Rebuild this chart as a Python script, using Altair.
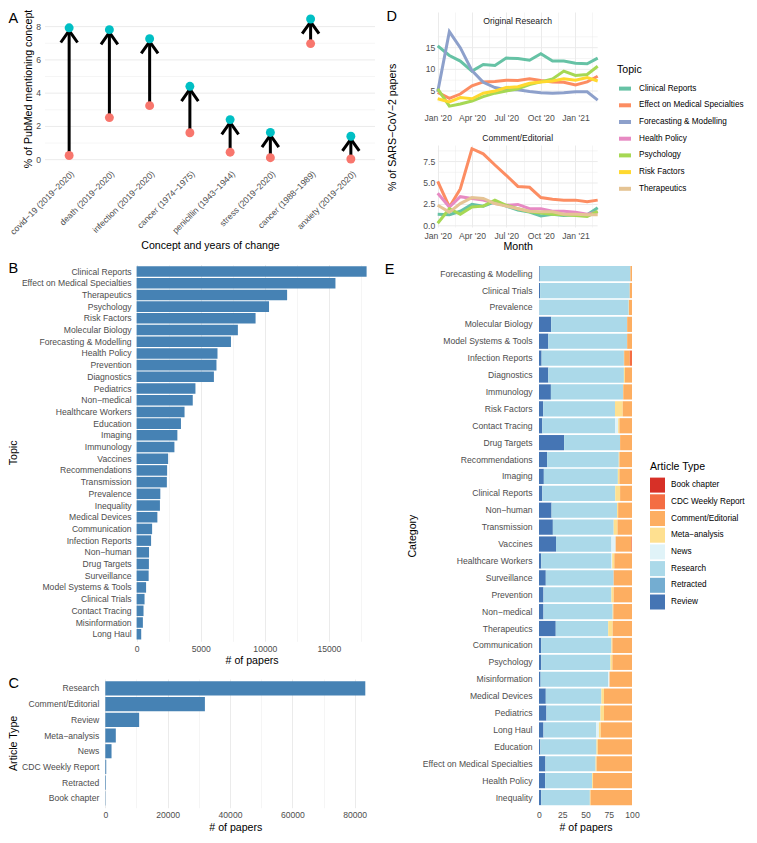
import json
import altair as alt
import pandas as pd

FONT = "Liberation Sans"
GRAY = "#4D4D4D"
GRID = "#EBEBEB"
BLUE = "#4682B4"

# ---------------- Panel A ----------------
a_concepts = ["covid−19 (2019−2020)", "death (2019−2020)", "infection (2019−2020)",
              "cancer (1974−1975)", "penicillin (1943−1944)", "stress (2019−2020)",
              "cancer (1988−1989)", "anxiety (2019−2020)"]
a_before = [0.25, 2.53, 3.25, 1.62, 0.45, 0.12, 6.98, 0.04]
a_after = [7.93, 7.82, 7.27, 4.41, 2.41, 1.64, 8.46, 1.41]
a_yticks = [0, 1, 2, 3, 4, 5, 6, 7, 8]

# ---------------- Panel B ----------------
b_topics = ["Clinical Reports", "Effect on Medical Specialties", "Therapeutics", "Psychology",
            "Risk Factors", "Molecular Biology", "Forecasting & Modelling", "Health Policy",
            "Prevention", "Diagnostics", "Pediatrics", "Non−medical", "Healthcare Workers",
            "Education", "Imaging", "Immunology", "Vaccines", "Recommendations", "Transmission",
            "Prevalence", "Inequality", "Medical Devices", "Communication", "Infection Reports",
            "Non−human", "Drug Targets", "Surveillance", "Model Systems & Tools", "Clinical Trials",
            "Contact Tracing", "Misinformation", "Long Haul"]
b_counts = [17940, 15510, 11740, 10330, 9280, 7900, 7360, 6310, 6230, 6030, 4590, 4380,
            3740, 3460, 3180, 2950, 2460, 2380, 2360, 1850, 1820, 1620, 1210, 1130,
            970, 960, 940, 740, 620, 540, 490, 360]
b_ticks = [0, 2500, 5000, 7500, 10000, 12500, 15000, 17500]

# ---------------- Panel C ----------------
c_types = ["Research", "Comment/Editorial", "Review", "Meta−analysis", "News",
           "CDC Weekly Report", "Retracted", "Book chapter"]
c_counts = [83400, 31950, 10860, 3370, 2000, 300, 200, 100]
c_ticks = [0, 10000, 20000, 30000, 40000, 50000, 60000, 70000, 80000]

# ---------------- Panel D ----------------
d_months = ["2020-01-01", "2020-02-01", "2020-03-01", "2020-04-01", "2020-05-01",
            "2020-06-01", "2020-07-01", "2020-08-01", "2020-09-01", "2020-10-01",
            "2020-11-01", "2020-12-01", "2021-01-01", "2021-02-01", "2021-03-01"]
d_topics = ["Clinical Reports", "Effect on Medical Specialties", "Forecasting & Modelling",
            "Health Policy", "Psychology", "Risk Factors", "Therapeutics"]
d_colors = ["#66C2A5", "#FC8D62", "#8DA0CB", "#E78AC3", "#A6D854", "#FFD92F", "#E5C494"]

or_clinical = [15.4, 13.2, 11.9, 9.6, 11.1, 10.9, 12.6, 12.5, 12.1, 13.6, 11.9, 11.9, 11.4, 11.3, 12.6]
or_effect = [4.7, 3.3, 4.3, 6.2, 7.1, 7.2, 7.5, 7.4, 7.8, 7.4, 7.1, 7.0, 6.4, 7.1, 8.4]
or_forecast = [4.8, 18.7, 15.0, 9.7, 7.0, 5.8, 5.3, 5.3, 4.9, 4.6, 4.5, 4.6, 4.8, 4.8, 2.9]
or_psych = [5.5, 1.5, 2.0, 2.7, 3.7, 4.5, 5.0, 5.5, 6.5, 7.1, 7.8, 9.6, 8.6, 8.8, 10.7]
or_risk = [3.2, 2.5, 3.5, 3.2, 4.5, 5.0, 5.8, 6.0, 6.8, 7.1, 7.3, 7.8, 7.5, 8.1, 7.3]

ce_clinical = [1.35, 1.3, 1.7, 2.5, 2.3, 2.8, 2.3, 1.85, 1.6, 1.15, 1.35, 1.2, 1.3, 1.3, 2.1]
ce_effect = [5.2, 2.2, 4.3, 9.0, 8.4, 7.1, 5.9, 4.6, 4.5, 3.3, 3.1, 3.0, 3.0, 2.8, 3.0]
ce_policy = [3.8, 2.2, 3.4, 3.2, 3.0, 2.6, 2.4, 2.5, 2.0, 2.0, 1.7, 1.7, 1.6, 1.35, 1.6]
ce_psych = [0.3, 2.0, 1.35, 2.2, 2.3, 3.0, 2.4, 2.0, 1.65, 1.5, 1.35, 1.3, 1.2, 1.1, 1.7]
ce_thera = [2.4, 1.6, 2.6, 3.3, 3.2, 2.6, 2.3, 2.0, 1.7, 1.65, 1.65, 1.35, 1.35, 1.3, 1.3]

d_tick_dates = ["2020-01-01", "2020-02-15", "2020-04-01", "2020-05-16", "2020-07-01",
                "2020-08-16", "2020-10-01", "2020-11-16", "2021-01-01", "2021-02-15"]
or_yticks = [2.5, 5, 7.5, 10, 12.5, 15, 17.5]
ce_yticks = [0, 1.25, 2.5, 3.75, 5, 6.25, 7.5, 8.75]

# ---------------- Panel E ----------------
e_categories = ["Forecasting & Modelling", "Clinical Trials", "Prevalence", "Molecular Biology",
                "Model Systems & Tools", "Infection Reports", "Diagnostics", "Immunology",
                "Risk Factors", "Contact Tracing", "Drug Targets", "Recommendations", "Imaging",
                "Clinical Reports", "Non−human", "Transmission", "Vaccines", "Healthcare Workers",
                "Surveillance", "Prevention", "Non−medical", "Therapeutics", "Communication",
                "Psychology", "Misinformation", "Medical Devices", "Pediatrics", "Long Haul",
                "Education", "Effect on Medical Specialties", "Health Policy", "Inequality"]
e_types = ["Book chapter", "CDC Weekly Report", "Comment/Editorial", "Meta−analysis", "News",
           "Research", "Retracted", "Review"]
e_colors = ["#D73027", "#F46D43", "#FDAE61", "#FEE090", "#E0F3F8", "#ABD9E9", "#74ADD1", "#4575B4"]

e_review = [0.8, 1.2, 0.3, 13.1, 10.0, 2.8, 10.0, 12.8, 4.5, 3.5, 27.0, 8.7, 5.2, 3.5, 13.5, 14.9,
            18.3, 2.4, 7.3, 4.8, 4.8, 18.0, 2.4, 2.4, 1.7, 7.3, 8.0, 4.8, 1.4, 6.9, 6.6, 2.4]
e_retracted = [0, 0, 0, 0, 0, 0, 0, 0, 0, 0, 0, 0, 0, 0, 0, 0,
               0, 0, 0, 0, 0, 0, 0, 0, 0, 0, 0, 0, 0, 0, 0, 0]
e_research = [97.5, 96.4, 96.2, 81.7, 84.8, 88.5, 81.3, 77.5, 77.2, 78.5, 60.2, 77.1, 79.6, 78.5,
              70.4, 65.4, 59.6, 75.5, 73.0, 73.1, 74.4, 56.4, 75.5, 74.4, 72.7, 59.8, 58.1, 56.8,
              60.5, 54.0, 50.5, 52.3]
e_news = [0, 0, 0, 0, 0, 0, 0, 0, 0, 3.1, 0, 0, 0, 0, 0, 0,
          4.5, 0.8, 0, 0, 0, 0, 0, 0, 1.4, 0, 0, 2.8, 0, 0, 0, 0]
e_meta = [0, 0, 0.3, 0, 0, 0.3, 1.1, 0.3, 8.3, 1.4, 0, 0.7, 1.7, 5.2, 1.2, 4.1,
          0, 2.3, 0, 2.4, 0.7, 4.8, 1.0, 2.1, 0, 2.8, 3.8, 2.0, 1.4, 1.0, 1.0, 0.7]
e_comment = [1.7, 2.4, 3.2, 5.2, 5.2, 6.0, 7.6, 9.4, 10.0, 13.5, 12.8, 13.5, 13.5, 12.8, 14.9, 15.6,
             16.9, 19.0, 19.7, 19.7, 20.1, 20.8, 21.1, 21.1, 24.2, 30.1, 30.1, 33.6, 36.7, 38.1,
             41.9, 44.6]
e_cdc = [0, 0, 0, 0, 0, 2.4, 0, 0, 0, 0, 0, 0, 0, 0, 0, 0,
         0.7, 0, 0, 0, 0, 0, 0, 0, 0, 0, 0, 0, 0, 0, 0, 0]
e_book = [0, 0, 0, 0, 0, 0, 0, 0, 0, 0, 0, 0, 0, 0, 0, 0,
          0, 0, 0, 0, 0, 0, 0, 0, 0, 0, 0, 0, 0, 0, 0, 0]

# ---------------- layout (pixels) ----------------
# Left column: panels share A's plot origin; B and C start further right via their scale ranges.
A_W, A_H = 330, 154
B_LEFT, B_STEP = 91.6, 11.7
B_RIGHT = B_LEFT + 230
C_LEFT, C_STEP = 60.3, 15.7
C_RIGHT = C_LEFT + 260
# Right column: D panels share E's plot origin (D starts further left via its scale range).
D_LEFT, D_RIGHT, D_TOP, D_H, D_GAP = -101.3, 58.7, 15.9, 82, 35
E_W, E_STEP = 93, 16.9
B_H = B_STEP * (len(b_topics) + 0.2)
C_H = C_STEP * (len(c_types) + 0.2)
E_H = E_STEP * (len(e_categories) + 0.2)

CHEV = "M -0.6 1.05 L 0 0.2 L 0.6 1.05"
LABEL_SIZE = 8.6
TITLE_SIZE = 10.6


def letter(ch, x, y):
    return alt.Chart(pd.DataFrame({"t": [ch]})).mark_text(
        align="left", baseline="middle", fontSize=14.5, font=FONT, color="black"
    ).encode(x=alt.value(x), y=alt.value(y), text="t:N")


def free_text(txt, x, y, size, angle=0, color="black"):
    return alt.Chart(pd.DataFrame({"t": [txt]})).mark_text(
        align="center", baseline="middle", fontSize=size, font=FONT, color=color, angle=angle
    ).encode(x=alt.value(x), y=alt.value(y), text="t:N")


def grid_cond(test):
    return {"condition": {"test": test, "value": 1}, "value": 0.5}


def hgrid(values, yscale, x0, x1, major_test):
    return alt.Chart(pd.DataFrame({"v": values})).mark_rule(color=GRID).encode(
        y=alt.Y("v:Q", scale=yscale, axis=None),
        x=alt.value(x0), x2=alt.value(x1),
        strokeWidth=alt.condition(major_test, alt.value(1), alt.value(0.5)))


def ylabels(values, yscale, x, keep_test, fmt):
    # tick labels of a left axis drawn at a chosen pixel column
    return alt.Chart(pd.DataFrame({"v": values})).transform_filter(keep_test).transform_calculate(
        lab="format(datum.v, '%s')" % fmt
    ).mark_text(align="right", baseline="middle", fontSize=LABEL_SIZE, font=FONT,
                color=GRAY).encode(y=alt.Y("v:Q", scale=yscale, axis=None), x=alt.value(x),
                                   text="lab:N")


def cat_labels(df, field, order, yscale, x):
    return alt.Chart(df).mark_text(align="right", baseline="middle", fontSize=LABEL_SIZE,
                                   font=FONT, color=GRAY).encode(
        y=alt.Y(field + ":N", sort=order, scale=yscale, axis=None),
        x=alt.value(x), text=field + ":N")


def left_title_axis(title, tx, h, lp):
    return alt.Axis(title=title, titleX=tx, titleY=h / 2, titleAngle=270, titleAlign="center",
                    titleBaseline="middle", labelPadding=lp, labelOverlap=False, grid=False)


# ---------------- Panel A chart ----------------
a_idx = list(range(len(a_concepts)))
dfA = pd.DataFrame({"idx": a_idx, "concept": a_concepts, "before": a_before, "after": a_after})
a_names_js = json.dumps(a_concepts, ensure_ascii=False)
a_x = alt.X("idx:Q",
            scale=alt.Scale(domain=[-0.6, len(a_concepts) - 0.4], nice=False, zero=False),
            axis=alt.Axis(values=a_idx, labelExpr=a_names_js + "[datum.value]",
                          title="Concept and years of change", labelAngle=-45, labelAlign="right",
                          labelBaseline="top", labelPadding=3, titlePadding=5, grid=False,
                          labelOverlap=False, labelFlush=False))
a_scale_y = alt.Scale(domain=[-0.38, 8.88], nice=False, zero=False)
baseA = alt.Chart(dfA)
shaft = baseA.mark_rule(color="black", strokeWidth=3).encode(
    x=a_x, y=alt.Y("before:Q", scale=a_scale_y, axis=None), y2="after:Q")
head = baseA.mark_point(shape=CHEV, size=784, filled=False, color="black", strokeWidth=3,
                        opacity=1).encode(x=a_x, y=alt.Y("after:Q", scale=a_scale_y, axis=None))
pt0 = baseA.mark_circle(size=80, color="#F8766D", opacity=1).encode(
    x=a_x, y=alt.Y("before:Q", scale=a_scale_y, axis=None))
pt1 = baseA.mark_circle(size=80, color="#00BFC4", opacity=1).encode(
    x=a_x, y=alt.Y("after:Q", scale=a_scale_y, axis=None))
chartA = alt.layer(
    hgrid(a_yticks, a_scale_y, 0, A_W, "datum.v % 2 == 0"),
    shaft, head, pt0, pt1,
    ylabels(a_yticks, a_scale_y, -4, "datum.v % 2 == 0", "d"),
    free_text("% of PubMed mentioning concept", -16.4, A_H / 2, TITLE_SIZE, angle=270),
    letter("A", -36.4, 6.5),
).properties(width=A_W, height=A_H)

# ---------------- Panel B chart ----------------
dfB = pd.DataFrame({"topic": b_topics, "n": b_counts})
b_scale_y = alt.Scale(paddingInner=0.1, paddingOuter=0.15)
barsB = alt.Chart(dfB).mark_bar(color=BLUE).encode(
    x=alt.X("n:Q", scale=alt.Scale(domain=[0, 17940], nice=False, range=[B_LEFT, B_RIGHT]),
            axis=alt.Axis(values=b_ticks,
                          labelExpr="datum.value % 5000 == 0 ? format(datum.value, 'd') : ''",
                          title="# of papers", labelPadding=3, titlePadding=3, labelFlush=False,
                          labelOverlap=False, titleX=(B_LEFT + B_RIGHT) / 2,
                          gridWidth=grid_cond("datum.value % 5000 == 0"))),
    y=alt.Y("topic:N", sort=b_topics, scale=b_scale_y, axis=None))
chartB = alt.layer(
    barsB,
    cat_labels(dfB, "topic", b_topics, b_scale_y, B_LEFT - 5),
    free_text("Topic", B_LEFT - 123, B_H / 2, TITLE_SIZE, angle=270),
    letter("B", B_LEFT - 128, 4.5),
).properties(width=B_RIGHT, height=B_H)

# ---------------- Panel C chart ----------------
dfC = pd.DataFrame({"type": c_types, "n": c_counts})
c_scale_y = alt.Scale(paddingInner=0.1, paddingOuter=0.15)
barsC = alt.Chart(dfC).mark_bar(color=BLUE).encode(
    x=alt.X("n:Q", scale=alt.Scale(domain=[0, 83400], nice=False, range=[C_LEFT, C_RIGHT]),
            axis=alt.Axis(values=c_ticks,
                          labelExpr="datum.value % 20000 == 0 ? format(datum.value, 'd') : ''",
                          title="# of papers", labelPadding=3, titlePadding=3, labelFlush=False,
                          labelOverlap=False, titleX=(C_LEFT + C_RIGHT) / 2,
                          gridWidth=grid_cond("datum.value % 20000 == 0"))),
    y=alt.Y("type:N", sort=c_types, scale=c_scale_y, axis=None))
chartC = alt.layer(
    barsC,
    cat_labels(dfC, "type", c_types, c_scale_y, C_LEFT - 6),
    free_text("Article Type", C_LEFT - 91, C_H / 2, TITLE_SIZE, angle=270),
    letter("C", C_LEFT - 96.7, 4.7),
).properties(width=C_RIGHT, height=C_H)


# ---------------- Panel D charts ----------------
def ms(s):
    return int(pd.Timestamp(s, tz="UTC").value // 10**6)


def long_df(series):
    rows = []
    for topic, vals in series:
        for m, v in zip(d_months, vals):
            rows.append({"month": m, "topic": topic, "pct": v})
    return pd.DataFrame(rows)


df_or = long_df([("Clinical Reports", or_clinical), ("Effect on Medical Specialties", or_effect),
                 ("Forecasting & Modelling", or_forecast), ("Psychology", or_psych),
                 ("Risk Factors", or_risk)])
df_ce = long_df([("Clinical Reports", ce_clinical), ("Effect on Medical Specialties", ce_effect),
                 ("Health Policy", ce_policy), ("Psychology", ce_psych),
                 ("Therapeutics", ce_thera)])

d_xticks = [ms(s) for s in d_tick_dates]
d_xdomain = [ms(d_months[0]), ms(d_months[-1])]
d_label_expr = "utcdate(datum.value) == 1 ? utcFormat(datum.value, \"%b '%y\") : ''"
D_MID = (D_LEFT + D_RIGHT) / 2


def d_x(title):
    kw = dict(values=d_xticks, labelExpr=d_label_expr, labelPadding=4, labelFlush=False,
              labelOverlap=False, gridWidth=grid_cond("utcdate(datum.value) == 1"))
    if title:
        kw.update(title=title, titlePadding=2, titleX=D_MID)
    else:
        kw.update(title=None)
    return alt.X("month:T",
                 scale=alt.Scale(type="utc", domain=d_xdomain, nice=False, range=[D_LEFT, D_RIGHT]),
                 axis=alt.Axis(**kw))


d_color_scale = alt.Scale(domain=d_topics, range=d_colors)
D1_H = D_TOP + D_H

or_scale_y = alt.Scale(domain=[0.64, 19.56], nice=False, zero=False, range=[D1_H, D_TOP])
lines_or = alt.Chart(df_or).mark_line(strokeWidth=3).encode(
    x=d_x(None),
    y=alt.Y("pct:Q", scale=or_scale_y, axis=None),
    color=alt.Color("topic:N", scale=d_color_scale,
                    legend=alt.Legend(title=["", "Topic"], titleLineHeight=53, orient="right",
                                      offset=13, symbolType="stroke", symbolStrokeWidth=4,
                                      symbolSize=144, labelOffset=6, rowPadding=0.7,
                                      titlePadding=5)))
chartD1 = alt.layer(
    hgrid(or_yticks, or_scale_y, D_LEFT, D_RIGHT, "datum.v % 5 == 0"),
    lines_or,
    ylabels(or_yticks, or_scale_y, D_LEFT - 2.5, "datum.v % 5 == 0", "d"),
    letter("D", D_LEFT - 51.3, 4.8),
    free_text("Original Research", D_MID, 8.5, LABEL_SIZE, color="#1A1A1A"),
    free_text("% of SARS−CoV−2 papers", D_LEFT - 45, D_TOP + (2 * D_H + D_GAP) / 2, TITLE_SIZE,
              angle=270),
).properties(width=D_RIGHT, height=D1_H)

ce_scale_y = alt.Scale(domain=[-0.135, 9.435], nice=False, zero=False)
lines_ce = alt.Chart(df_ce).mark_line(strokeWidth=3).encode(
    x=d_x("Month"),
    y=alt.Y("pct:Q", scale=ce_scale_y, axis=None),
    color=alt.Color("topic:N", scale=d_color_scale, legend=None))
chartD2 = alt.layer(
    hgrid(ce_yticks, ce_scale_y, D_LEFT, D_RIGHT, "datum.v % 2.5 == 0"),
    lines_ce,
    ylabels(ce_yticks, ce_scale_y, D_LEFT - 2.5, "datum.v % 2.5 == 0", ".1f"),
    free_text("Comment/Editorial", D_MID, -7.4, LABEL_SIZE, color="#1A1A1A"),
).properties(width=D_RIGHT, height=D_H)

groupD = alt.concat(chartD1, chartD2, columns=1, bounds="flush", spacing=D_GAP).resolve_scale(
    color="independent")

# ---------------- Panel E chart ----------------
e_series = [("Review", e_review), ("Retracted", e_retracted), ("Research", e_research),
            ("News", e_news), ("Meta−analysis", e_meta), ("Comment/Editorial", e_comment),
            ("CDC Weekly Report", e_cdc), ("Book chapter", e_book)]
rowsE = []
for k, (t, vals) in enumerate(e_series):
    for c, v in zip(e_categories, vals):
        rowsE.append({"category": c, "type": t, "pct": v, "stack": k})
dfE = pd.DataFrame(rowsE)

barsE = alt.Chart(dfE).mark_bar().encode(
    x=alt.X("pct:Q", stack="zero", scale=alt.Scale(domain=[0, 100], nice=False),
            axis=alt.Axis(values=[0, 25, 50, 75, 100], format="d", title="# of papers",
                          grid=False, labelFlush=False, labelPadding=3, titlePadding=3,
                          labelOverlap=False)),
    y=alt.Y("category:N", sort=e_categories, scale=alt.Scale(paddingInner=0.1, paddingOuter=0.15),
            axis=left_title_axis("Category", -126.8, E_H, 7)),
    color=alt.Color("type:N", scale=alt.Scale(domain=e_types, range=e_colors),
                    legend=alt.Legend(title=["", "Article Type"], titleLineHeight=198.5,
                                      orient="right", offset=18, symbolType="square",
                                      symbolSize=225, symbolStrokeWidth=0, labelOffset=6,
                                      rowPadding=1.7, titlePadding=5)),
    order=alt.Order("stack:Q", sort="ascending"))
chartE = alt.layer(barsE, letter("E", -154.3, 6.8)).properties(width=E_W, height=E_H)

# ---------------- assemble ----------------
left_col = alt.concat(chartA, chartB, chartC, columns=1, spacing=8.5)
right_col = alt.concat(groupD, chartE, columns=1, spacing=8.5).resolve_scale(color="independent")

chart = alt.concat(left_col, right_col, columns=2, spacing=8).resolve_scale(
    color="independent").properties(padding=0).configure_axis(
    labelFont=FONT, titleFont=FONT, labelFontSize=LABEL_SIZE, titleFontSize=TITLE_SIZE,
    labelColor=GRAY, titleColor="black", titleFontWeight="normal", domain=False, ticks=False,
    gridColor=GRID
).configure_legend(
    labelFont=FONT, titleFont=FONT, labelFontSize=8.2, titleFontSize=TITLE_SIZE,
    titleFontWeight="normal", labelColor="black", titleColor="black", padding=0
).configure_view(stroke=None).configure_text(font=FONT)

chart.save("out.html", embed_options={"renderer": "svg", "actions": False})
